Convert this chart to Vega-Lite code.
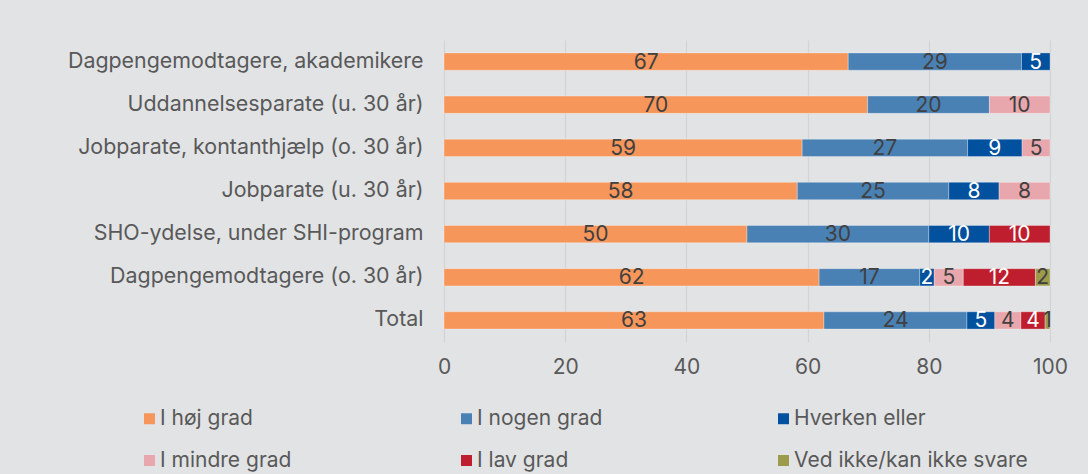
{
  "$schema": "https://vega.github.io/schema/vega-lite/v6.json",
  "width": 606,
  "height": 302,
  "autosize": {"type": "none"},
  "padding": {"left": 444, "top": 40, "right": 38, "bottom": 132},
  "background": "#E2E3E5",
  "config": {
    "view": {"stroke": null},
    "font": "Inter",
    "axis": {"labelFont": "Inter", "labelColor": "#595959"},
    "legend": {"labelFont": "Inter", "labelColor": "#595959"}
  },
  "data": {
    "values": [
      {"cat": "Dagpengemodtagere, akademikere", "resp": "I høj grad", "o": 1, "value": 66.7},
      {"cat": "Dagpengemodtagere, akademikere", "resp": "I nogen grad", "o": 2, "value": 28.6},
      {"cat": "Dagpengemodtagere, akademikere", "resp": "Hverken eller", "o": 3, "value": 4.7},
      {"cat": "Uddannelsesparate (u. 30 år)", "resp": "I høj grad", "o": 1, "value": 69.9},
      {"cat": "Uddannelsesparate (u. 30 år)", "resp": "I nogen grad", "o": 2, "value": 20.1},
      {"cat": "Uddannelsesparate (u. 30 år)", "resp": "I mindre grad", "o": 4, "value": 10.0},
      {"cat": "Jobparate, kontanthjælp (o. 30 år)", "resp": "I høj grad", "o": 1, "value": 59.1},
      {"cat": "Jobparate, kontanthjælp (o. 30 år)", "resp": "I nogen grad", "o": 2, "value": 27.3},
      {"cat": "Jobparate, kontanthjælp (o. 30 år)", "resp": "Hverken eller", "o": 3, "value": 9.0},
      {"cat": "Jobparate, kontanthjælp (o. 30 år)", "resp": "I mindre grad", "o": 4, "value": 4.6},
      {"cat": "Jobparate (u. 30 år)", "resp": "I høj grad", "o": 1, "value": 58.3},
      {"cat": "Jobparate (u. 30 år)", "resp": "I nogen grad", "o": 2, "value": 25.0},
      {"cat": "Jobparate (u. 30 år)", "resp": "Hverken eller", "o": 3, "value": 8.3},
      {"cat": "Jobparate (u. 30 år)", "resp": "I mindre grad", "o": 4, "value": 8.4},
      {"cat": "SHO-ydelse, under SHI-program", "resp": "I høj grad", "o": 1, "value": 50.0},
      {"cat": "SHO-ydelse, under SHI-program", "resp": "I nogen grad", "o": 2, "value": 30.0},
      {"cat": "SHO-ydelse, under SHI-program", "resp": "Hverken eller", "o": 3, "value": 10.0},
      {"cat": "SHO-ydelse, under SHI-program", "resp": "I lav grad", "o": 5, "value": 10.0},
      {"cat": "Dagpengemodtagere (o. 30 år)", "resp": "I høj grad", "o": 1, "value": 61.9},
      {"cat": "Dagpengemodtagere (o. 30 år)", "resp": "I nogen grad", "o": 2, "value": 16.6},
      {"cat": "Dagpengemodtagere (o. 30 år)", "resp": "Hverken eller", "o": 3, "value": 2.4},
      {"cat": "Dagpengemodtagere (o. 30 år)", "resp": "I mindre grad", "o": 4, "value": 4.8},
      {"cat": "Dagpengemodtagere (o. 30 år)", "resp": "I lav grad", "o": 5, "value": 11.9},
      {"cat": "Dagpengemodtagere (o. 30 år)", "resp": "Ved ikke/kan ikke svare", "o": 6, "value": 2.4},
      {"cat": "Total", "resp": "I høj grad", "o": 1, "value": 62.7},
      {"cat": "Total", "resp": "I nogen grad", "o": 2, "value": 23.6},
      {"cat": "Total", "resp": "Hverken eller", "o": 3, "value": 4.6},
      {"cat": "Total", "resp": "I mindre grad", "o": 4, "value": 4.3},
      {"cat": "Total", "resp": "I lav grad", "o": 5, "value": 4.0},
      {"cat": "Total", "resp": "Ved ikke/kan ikke svare", "o": 6, "value": 0.8}
    ]
  },
  "transform": [
    {"stack": "value", "groupby": ["cat"], "sort": [{"field": "o", "order": "ascending"}], "as": ["v0", "v1"]}
  ],
  "encoding": {
    "y": {
      "field": "cat",
      "type": "nominal",
      "sort": null,
      "title": null,
      "scale": {"paddingInner": 0.6, "paddingOuter": 0.3},
      "axis": {"domain": false, "ticks": false, "labelFontSize": 21.4, "labelPadding": 21, "labelLimit": 450}
    }
  },
  "layer": [
    {
      "mark": {"type": "bar", "stroke": "#FFFFFF", "strokeWidth": 0.5, "strokeOpacity": 0.6},
      "encoding": {
        "x": {
          "field": "v0",
          "type": "quantitative",
          "scale": {"domain": [0, 100], "nice": false},
          "title": null,
          "axis": {"values": [0, 20, 40, 60, 80, 100], "domain": false, "ticks": false, "labelFlush": false, "labelFontSize": 21, "labelPadding": 14, "gridColor": "#D3D4D6", "gridWidth": 1.2}
        },
        "x2": {"field": "v1"},
        "color": {
          "field": "resp",
          "type": "nominal",
          "sort": ["I høj grad", "I nogen grad", "Hverken eller", "I mindre grad", "I lav grad", "Ved ikke/kan ikke svare"],
          "scale": {
            "domain": ["I høj grad", "I nogen grad", "Hverken eller", "I mindre grad", "I lav grad", "Ved ikke/kan ikke svare"],
            "range": ["#F7965A", "#4A81B5", "#02519E", "#E8A7AD", "#BF1E2E", "#9C9B4C"]
          },
          "legend": {
            "title": null,
            "orient": "none",
            "legendX": -305,
            "legendY": 368,
            "direction": "horizontal",
            "columns": 3,
            "gridAlign": "all",
            "columnPadding": 62,
            "rowPadding": 20,
            "symbolType": "square",
            "symbolSize": 120,
            "symbolStrokeWidth": 0,
            "labelFontSize": 21,
            "labelOffset": 0,
            "labelLimit": 300
          }
        }
      }
    },
    {
      "mark": {
        "type": "text",
        "fontSize": 21,
        "baseline": "middle",
        "align": "center",
        "dy": 1,
        "dx": {"expr": "(scale('x', datum.v1) - scale('x', datum.v0)) / 2"}
      },
      "encoding": {
        "x": {"field": "v0", "type": "quantitative"},
        "text": {"field": "value", "type": "quantitative", "format": ".0f"},
        "color": {
          "condition": {"test": "datum.resp === 'Hverken eller' || datum.resp === 'I lav grad'", "value": "#FFFFFF"},
          "value": "#404040"
        }
      }
    }
  ]
}
